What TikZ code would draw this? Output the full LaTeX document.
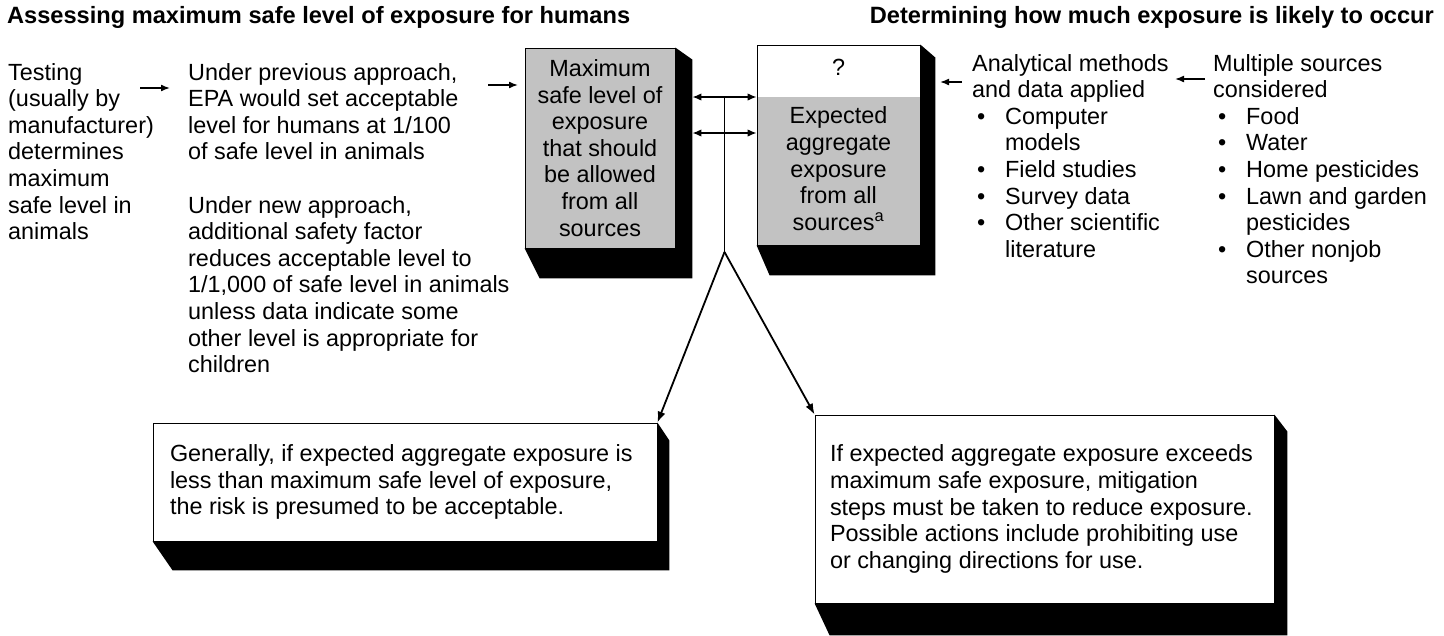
\documentclass[tikz,border=0pt]{standalone}
\usepackage{fontspec}
\setmainfont{Liberation Sans}
\usetikzlibrary{arrows.meta,calc}
\definecolor{boxgrey}{gray}{0.76}
\newcommand{\bodyfont}{\fontsize{23.4}{26.6}\selectfont}
\newcommand{\titlefont}{\fontsize{23.6}{28}\selectfont\bfseries}
\newcommand{\tblock}[2]{\parbox[t]{#1}{\bodyfont\raggedright #2}}
\newcommand{\cblock}[2]{\parbox[t]{#1}{\bodyfont\centering #2}}
\newcommand{\bul}{\hspace*{5pt}\makebox[28pt][l]{\textbullet}}
\newcommand{\ind}{\hspace*{33pt}}
\newcommand{\extrude}[5]{\fill (#1.north east) -- ++(#2,#3) -- ($(#1.south east)+(#2,#4)$) -- ($(#1.south west)+(#5,#4)$) -- (#1.south west) -- (#1.south east) -- cycle;}
\tikzset{
  arr/.style={line width=1.6pt, -{Latex[length=9pt,width=7pt]}},
  bigarr/.style={line width=1.8pt, -{Latex[length=11pt,width=8pt]}},
  darr/.style={line width=1.6pt, {Latex[length=9pt,width=7.5pt]}-{Latex[length=9pt,width=7.5pt]}},
  conn/.style={line width=1.6pt},
  txt/.style={anchor=base west, inner sep=0pt},
  frontbox/.style={draw=black, line width=0.8pt, inner sep=0pt},
}
\begin{document}
\begin{tikzpicture}[x=1pt,y=-1pt]
\fill[white] (0,0) rectangle (1444,635);
\useasboundingbox (0,0) rectangle (1444,635);

% titles
\node[anchor=base west, inner sep=0pt, font=\titlefont] (t1) at (7,23) {Assessing maximum safe level of exposure for humans};
\node[anchor=base east, inner sep=0pt, font=\titlefont] (t2) at (1434,23) {Determining how much exposure is likely to occur};

% left texts
\node[txt] (testing) at (8,80) {\tblock{170pt}{Testing\\(usually by\\manufacturer)\\determines\\maximum\\safe level in\\animals}};
\node[txt] (approach) at (188,80) {\tblock{340pt}{Under previous approach,\\EPA would set acceptable\\level for humans at 1/100\\of safe level in animals\\[26.6pt]Under new approach,\\additional safety factor\\reduces acceptable level to\\1/1,000 of safe level in animals\\unless data indicate some\\other level is appropriate for\\children}};

% right texts
\node[txt] (analytical) at (972,71) {\tblock{240pt}{Analytical methods\\and data applied\\\bul Computer\\\ind models\\\bul Field studies\\\bul Survey data\\\bul Other scientific\\\ind literature}};
\node[txt] (multiple) at (1213,71) {\tblock{230pt}{Multiple sources\\considered\\\bul Food\\\bul Water\\\bul Home pesticides\\\bul Lawn and garden\\\ind pesticides\\\bul Other nonjob\\\ind sources}};

% central boxes
\node[frontbox, fill=boxgrey, minimum width=150pt, minimum height=200pt] (L) at (600,148)
  {\cblock{150pt}{Maximum\\safe level of\\exposure\\that should\\be allowed\\from all\\sources}};
\extrude{L}{17}{12}{30}{15}

\node[frontbox, fill=white, minimum width=163pt, minimum height=200pt,
  path picture={\fill[boxgrey] ($(path picture bounding box.north west)+(0,52)$) rectangle (path picture bounding box.south east);}]
  (R) at (838.5,145)
  {\cblock{163pt}{?\\[21.4pt]Expected\\aggregate\\exposure\\from all\\sources\textsuperscript{a}}};
\extrude{R}{15}{13}{30}{13}

% bottom boxes
\node[frontbox, fill=white, minimum width=504pt, minimum height=118pt, inner xsep=17pt] (BL) at (405,482)
  {\tblock{470pt}{\mbox{Generally, if expected aggregate exposure is}\\\mbox{less than maximum safe level of exposure,}\\the risk is presumed to be acceptable.}};
\extrude{BL}{12}{18}{29}{20}

\node[frontbox, fill=white, minimum width=459pt, minimum height=188pt, inner xsep=15pt] (BR) at (1044.5,509)
  {\tblock{429pt}{\mbox{If expected aggregate exposure exceeds}\\maximum safe exposure, mitigation\\\mbox{steps must be taken to reduce exposure.}\\\mbox{Possible actions include prohibiting use}\\or changing directions for use.}};
\extrude{BR}{13}{17}{32}{15}

% small arrows
\coordinate (a1s) at (140,88);
\coordinate (a1e) at (170,88);
\coordinate (a2s) at (488,85);
\coordinate (a2e) at (518,85);
\coordinate (a3s) at (962,82);
\coordinate (a3e) at (940,82);
\coordinate (a4s) at (1205,79);
\coordinate (a4e) at (1175,79);
\draw[arr] (a1s) -- (a1e);
\draw[arr] (a2s) -- (a2e);
\draw[arr] (a3s) -- (a3e);
\draw[arr] (a4s) -- (a4e);

% comparison connectors
\coordinate (Lside) at ($(L.north east)+(17,0)$);
\coordinate (s1) at (724.5,97);
\coordinate (s2) at (724.5,133);
\coordinate (F) at (724.5,252);
\draw[darr] (Lside |- s1) -- (R.west |- s1);
\draw[darr] (Lside |- s2) -- (R.west |- s2);
\draw[conn] (s1) -- (F);
\draw[bigarr] (F) -- (BL.north east);
\draw[bigarr] (F) -- (BR.north west);
\end{tikzpicture}
\end{document}
